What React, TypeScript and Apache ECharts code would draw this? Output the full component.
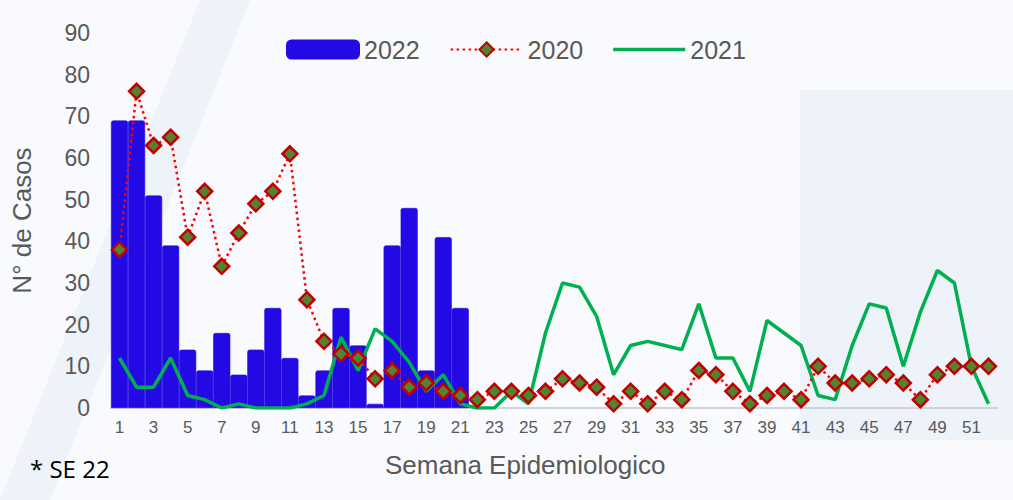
import React, { useEffect, useRef } from "react";
import * as echarts from "echarts";

const weeks: string[] = Array.from({ length: 52 }, (_, i) => String(i + 1));

const cases2022: number[] = [
  69, 69, 51, 39, 14, 9, 18, 8, 14, 24, 12, 3, 9, 24, 15, 1, 39, 48, 9, 41, 24,
];

const cases2020: number[] = [
  38, 76, 63, 65, 41, 52, 34, 42, 49, 52, 61, 26, 16, 13, 12, 7, 9, 5, 6, 4, 3,
  2, 4, 4, 3, 4, 7, 6, 5, 1, 4, 1, 4, 2, 9, 8, 4, 1, 3, 4, 2, 10, 6, 6, 7, 8, 6,
  2, 8, 10, 10, 10,
];

const cases2021: number[] = [
  12, 5, 5, 12, 3, 2, 0, 1, 0, 0, 0, 1, 3, 17, 9, 19, 16, 11, 4, 8, 1, 0, 0, 4,
  1, 18, 30, 29, 22, 8, 15, 16, 15, 14, 25, 12, 12, 4, 21, 18, 15, 3, 2, 15, 25,
  24, 10, 23, 33, 30, 10, 1,
];

const yTicks = { min: 0, max: 90, interval: 10 };

export default function App() {
  const ref = useRef<HTMLDivElement>(null);

  useEffect(() => {
    if (!ref.current) return;
    const chart = echarts.init(ref.current, null, { renderer: "svg" });
    const axisColor = "#595959";
    const font = "'Liberation Sans', Arial, sans-serif";
    chart.setOption({
      animation: false,
      backgroundColor: "#f8fafd",
      textStyle: { fontFamily: font },
      graphic: [
        {
          type: "polygon",
          z: -10,
          shape: { points: [[0, 500], [50, 500], [250, 0], [200, 0]] },
          style: { fill: "#eef3f9" },
          silent: true,
        },
        {
          type: "polygon",
          z: -10,
          shape: { points: [[800, 90], [1013, 90], [1013, 440], [800, 440]] },
          style: { fill: "#eef3f9" },
          silent: true,
        },
        {
          type: "text",
          left: 385,
          top: 452,
          style: {
            text: "Semana Epidemiologico",
            fontSize: 26,
            fill: axisColor,
            fontFamily: font,
          },
        },
        {
          type: "text",
          left: 30,
          top: 456,
          style: {
            text: "* SE 22",
            fontSize: 24,
            fill: "#000000",
            fontFamily: "'Open Sans', sans-serif",
          },
        },
      ],
      legend: {
        top: 32,
        left: 281,
        itemWidth: 72,
        itemHeight: 18,
        itemGap: 30,
        data: [
          { name: "2022", icon: "roundRect" },
          { name: "2020" },
          { name: "2021", icon: "path://M0,0 L72,0 L72,3.5 L0,3.5 Z" },
        ],
        textStyle: { fontSize: 25, color: axisColor, fontFamily: font },
      },
      grid: { left: 111, right: 16, top: 33, bottom: 92 },
      xAxis: {
        type: "category",
        data: weeks,
        boundaryGap: true,
        axisLine: { show: true, lineStyle: { color: "#d0d4da", width: 2 } },
        axisTick: { show: false },
        axisLabel: {
          interval: 1,
          fontSize: 17,
          color: axisColor,
          margin: 11,
          fontFamily: font,
        },
        splitLine: { show: false },
      },
      yAxis: {
        type: "value",
        min: yTicks.min,
        max: yTicks.max,
        interval: yTicks.interval,
        name: "N° de Casos",
        nameLocation: "middle",
        nameRotate: 90,
        nameGap: 76,
        nameTextStyle: { fontSize: 26, color: axisColor, fontFamily: font },
        axisLine: { show: false },
        axisTick: { show: false },
        splitLine: { show: false },
        axisLabel: { fontSize: 23, color: axisColor, margin: 21, fontFamily: font },
      },
      series: [
        {
          name: "2022",
          type: "bar",
          data: cases2022,
          barWidth: "100%",
          itemStyle: {
            color: "#2309e3",
            borderColor: "#2309e3",
            borderWidth: 0.6,
            borderRadius: [2, 2, 0, 0],
          },
          z: 1,
        },
        {
          name: "2021",
          type: "line",
          data: cases2021,
          symbol: "none",
          lineStyle: { color: "#00b050", width: 3.5 },
          itemStyle: { color: "#00b050" },
          z: 3,
        },
        {
          name: "2020",
          type: "line",
          data: cases2020,
          symbol: "diamond",
          symbolSize: 15,
          showAllSymbol: true,
          lineStyle: { color: "#ff0000", width: 2.5, type: [2.5, 3.5] },
          itemStyle: { color: "#548235", borderColor: "#c00000", borderWidth: 2.5 },
          z: 4,
        },
      ],
    });
    return () => chart.dispose();
  }, []);

  return (
    <div
      ref={ref}
      style={{ position: "absolute", left: 0, top: 0, width: 1013, height: 500 }}
    />
  );
}
